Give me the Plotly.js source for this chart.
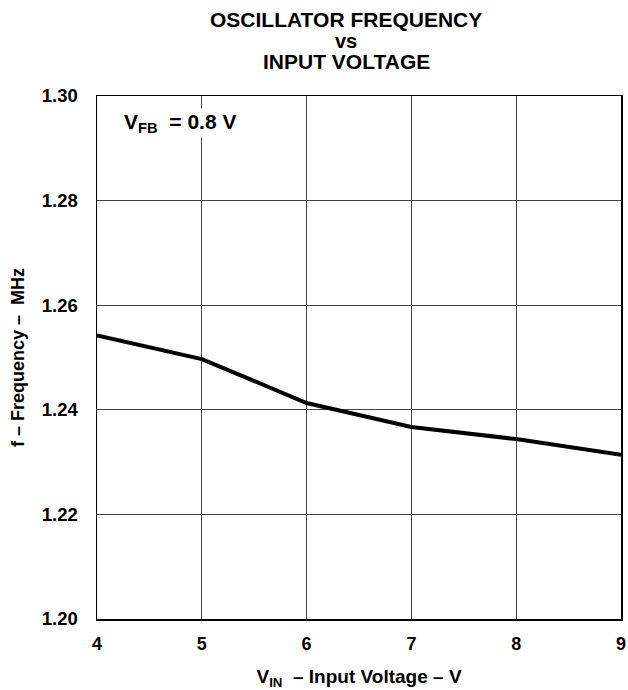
<!DOCTYPE html>
<html>
<head>
<meta charset="utf-8">
<script src="https://cdn.plot.ly/plotly-3.0.1.min.js"></script>
<style>html,body{margin:0;padding:0;background:#fff;}#chart{width:628px;height:690px;}</style>
</head>
<body>
<div id="chart"></div>
<script>
const inputVoltage = [4, 5, 6, 7, 8, 9];
const frequencyMHz = [1.2542, 1.2497, 1.2413, 1.2367, 1.2344, 1.2314];
const xTicks = [4, 5, 6, 7, 8, 9];
const yTicks = [1.20, 1.22, 1.24, 1.26, 1.28, 1.30];
const yTickLabels = ["1.20", "1.22", "1.24", "1.26", "1.28", "1.30"];

const FONT = "Liberation Sans, Arial, Helvetica, sans-serif";

const trace = {
  x: inputVoltage,
  y: frequencyMHz,
  type: "scatter",
  mode: "lines",
  line: {color: "#000", width: 4},
  hoverinfo: "skip"
};

const layout = {
  width: 628, height: 690,
  margin: {l: 97, r: 7, t: 96, b: 71},
  paper_bgcolor: "#fff", plot_bgcolor: "#fff",
  showlegend: false,
  font: {family: FONT, color: "#000", weight: "bold"},
  xaxis: {
    range: [4, 9], tickvals: xTicks, ticktext: xTicks.map(String),
    showgrid: true, gridcolor: "#444", gridwidth: 1,
    zeroline: false, showline: true, linecolor: "#000", linewidth: 1.5, mirror: true,
    ticks: "", ticklabelstandoff: 8,
    tickfont: {family: FONT, size: 18, color: "#000", weight: "bold"},
    title: {text: "V<sub>IN</sub>  – Input Voltage – V", standoff: 16,
            font: {family: FONT, size: 19, color: "#000", weight: "bold"}}
  },
  yaxis: {
    range: [1.20, 1.30], tickvals: yTicks, ticktext: yTickLabels,
    showgrid: true, gridcolor: "#444", gridwidth: 1,
    zeroline: false, showline: true, linecolor: "#000", linewidth: 1.5, mirror: true,
    ticks: "", ticklabelstandoff: 14,
    tickfont: {family: FONT, size: 18.5, color: "#000", weight: "bold"},
    title: {text: "f – Frequency –  MHz", standoff: 12,
            font: {family: FONT, size: 18, color: "#000", weight: "bold"}}
  },
  annotations: [
    {text: "OSCILLATOR FREQUENCY", xref: "paper", yref: "paper", x: 0.476, y: 1, yshift: 77,
     showarrow: false, xanchor: "center", yanchor: "middle",
     font: {family: FONT, size: 21, color: "#000", weight: "bold"}},
    {text: "vs", xref: "paper", yref: "paper", x: 0.476, y: 1, yshift: 55,
     showarrow: false, xanchor: "center", yanchor: "middle",
     font: {family: FONT, size: 20, color: "#000", weight: "bold"}},
    {text: "INPUT VOLTAGE", xref: "paper", yref: "paper", x: 0.476, y: 1, yshift: 35,
     showarrow: false, xanchor: "center", yanchor: "middle",
     font: {family: FONT, size: 21, color: "#000", weight: "bold"}},
    {text: "V<sub>FB</sub>  = 0.8 V", xref: "paper", yref: "paper", x: 0, y: 1, xshift: 25, yshift: -12,
     showarrow: false, xanchor: "left", yanchor: "top", bgcolor: "#fff",
     font: {family: FONT, size: 21, color: "#000", weight: "bold"}}
  ]
};

Plotly.newPlot("chart", [trace], layout, {staticPlot: true, displayModeBar: false});
</script>
</body>
</html>
